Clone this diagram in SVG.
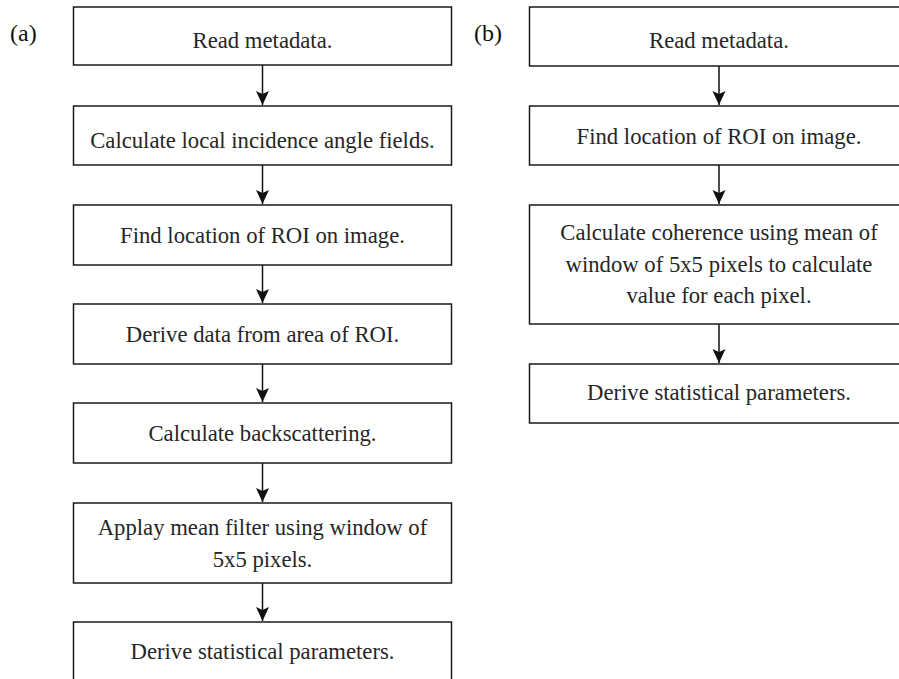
<svg xmlns="http://www.w3.org/2000/svg" width="899" height="679" viewBox="0 0 899 679">
<style>
.box{fill:#fff;stroke:#1a1a1a;stroke-width:1.5}
.c{stroke:#111;stroke-width:1.5;fill:none}
.h{fill:#111}
</style>
<rect width="899" height="679" fill="#fff"/>
<g font-family="'Liberation Serif', serif" font-size="24" fill="#111">
<text x="10" y="41">(a)</text>
<text x="474" y="41">(b)</text>
</g>
<g id="connectors">
<path class="c" d="M262.5,65 V105"/>
<path class="c" d="M262.5,165 V204"/>
<path class="c" d="M262.5,265 V303"/>
<path class="c" d="M262.5,364 V402"/>
<path class="c" d="M262.5,463 V502"/>
<path class="c" d="M262.5,583 V621"/>
<path class="c" d="M719,66 V105"/>
<path class="c" d="M719,165 V204"/>
<path class="c" d="M719,324 V363"/>
<path class="h" d="M256,91 L262.5,94 L269,91 L262.5,105 Z"/>
<path class="h" d="M256,190 L262.5,193 L269,190 L262.5,204 Z"/>
<path class="h" d="M256,289 L262.5,292 L269,289 L262.5,303 Z"/>
<path class="h" d="M256,388 L262.5,391 L269,388 L262.5,402 Z"/>
<path class="h" d="M256,488 L262.5,491 L269,488 L262.5,502 Z"/>
<path class="h" d="M256,607 L262.5,610 L269,607 L262.5,621 Z"/>
<path class="h" d="M712.5,91 L719,94 L725.5,91 L719,105 Z"/>
<path class="h" d="M712.5,190 L719,193 L725.5,190 L719,204 Z"/>
<path class="h" d="M712.5,349 L719,352 L725.5,349 L719,363 Z"/>
</g>
<g font-family="'Liberation Serif', serif" font-size="22.7" fill="#262626" text-anchor="middle">
<g id="a1"><rect class="box" x="73.5" y="7" width="378" height="58"/><text x="262.5" y="47.5">Read metadata.</text></g>
<g id="a2"><rect class="box" x="73.5" y="106" width="378" height="59"/><text x="262.5" y="148">Calculate local incidence angle fields.</text></g>
<g id="a3"><rect class="box" x="73.5" y="205" width="378" height="60"/><text x="262.5" y="243">Find location of ROI on image.</text></g>
<g id="a4"><rect class="box" x="73.5" y="304" width="378" height="60"/><text x="262.5" y="342">Derive data from area of ROI.</text></g>
<g id="a5"><rect class="box" x="73.5" y="403" width="378" height="60"/><text x="262.5" y="441">Calculate backscattering.</text></g>
<g id="a6"><rect class="box" x="73.5" y="503" width="378" height="80"/><text x="262.5" y="535">Applay mean filter using window of</text><text x="262.5" y="567">5x5 pixels.</text></g>
<g id="a7"><rect class="box" x="73.5" y="622" width="378" height="70"/><text x="262.5" y="659">Derive statistical parameters.</text></g>
<g id="b1"><rect class="box" x="529.5" y="7" width="380" height="59"/><text x="719" y="47.5">Read metadata.</text></g>
<g id="b2"><rect class="box" x="529.5" y="106" width="380" height="59"/><text x="719" y="144">Find location of ROI on image.</text></g>
<g id="b3"><rect class="box" x="529.5" y="205" width="380" height="119"/><text x="719" y="240">Calculate coherence using mean of</text><text x="719" y="272">window of 5x5 pixels to calculate</text><text x="719" y="303">value for each pixel.</text></g>
<g id="b4"><rect class="box" x="529.5" y="364" width="380" height="59"/><text x="719" y="400">Derive statistical parameters.</text></g>
</g>
</svg>
